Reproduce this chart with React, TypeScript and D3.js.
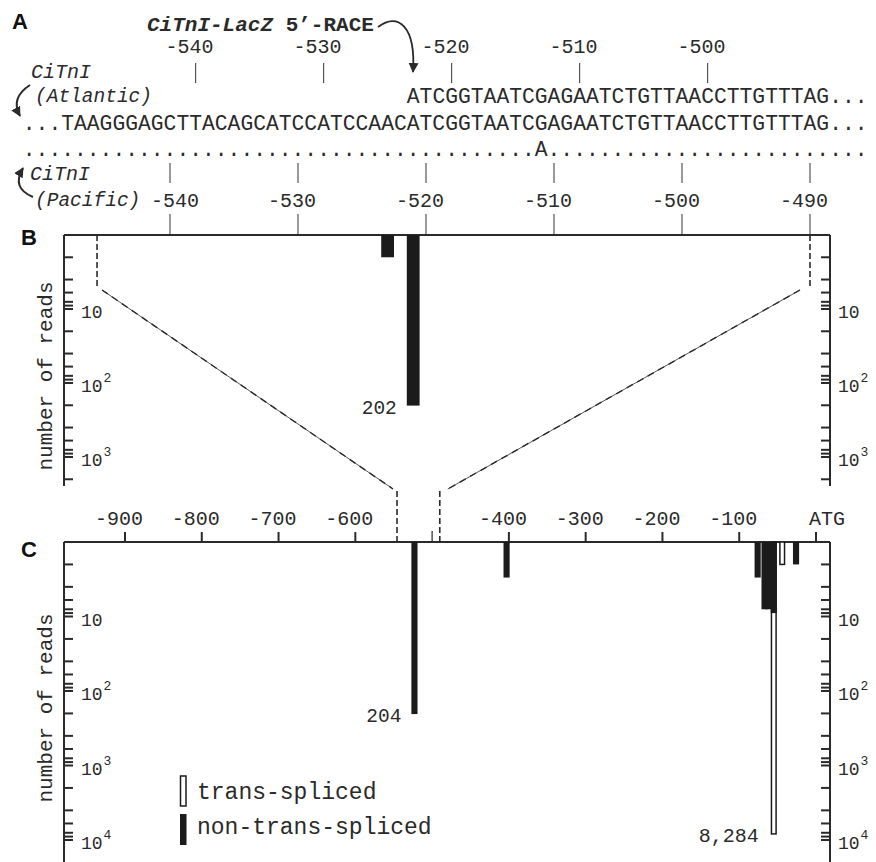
import * as React from "react";
import * as d3 from "d3";

// sequence rows (panel A)
const raceRead = "ATCGGTAATCGAGAATCTGTTAACCTTGTTTAG...";
const atlanticSeq = "...TAAGGGAGCTTACAGCATCCATCCAACATCGGTAATCGAGAATCTGTTAACCTTGTTTAG...";
const pacificSeq = "........................................A.........................";
const seqStart = -551; // pacific coordinate of first char
const raceStart = -521;
const atlanticTicks = [-540, -530, -520, -510, -500];
const pacificTicks = [-540, -530, -520, -510, -500, -490];
const atlanticShift = 2;

// panel B reads (pacific coords)
const bPositions = [-523, -521];
const bReads = [2, 202];

// panel C reads
const nonTransPositions = [-523, -403, -76, -67, -62, -55, -26];
const nonTransReads = [204, 3, 3, 8, 8, 9, 2];
const transPositions = [-55, -44];
const transReads = [8284, 2];
const cTicks = [-900, -800, -700, -600, -500, -400, -300, -200, -100, 0];
const cTickLabels = ["-900", "-800", "-700", "-600", "", "-400", "-300", "-200", "-100", "ATG"];
const zoomWindow = [-545.7, -490];

const minorMult = [2, 4, 6, 8, 9];
const decades = [10, 100, 1000, 10000];
const decadeExp = ["", "2", "3", "4"];

const mono = "'Liberation Mono', 'DejaVu Sans Mono', monospace";
const ink = "#2a2a2a";

const xP = d3.scaleLinear().domain([-540, -490]).range([170, 810]);
const xA = (a: number) => xP(a + atlanticShift);
const xC = d3.scaleLinear().domain([-900, 0]).range([125, 816]);
const yB = d3.scaleLog().domain([1, 1000]).range([235, 457]);
const yC = d3.scaleLog().domain([1, 10000]).range([542, 840]);
const fmt = d3.format(",");

const axL = 64;
const axR = 830;

function LogAxis({ y, bottom }: { y: d3.ScaleLogarithmic<number, number>; bottom: number }) {
  const ticks: number[] = [];
  [1, 10, 100, 1000, 10000].forEach((d) => {
    minorMult.forEach((m) => ticks.push(m * d));
  });
  decades.forEach((d) => ticks.push(d));
  const top = y.range()[0];
  const visible = ticks.filter((t) => y(t) <= bottom - 2);
  return (
    <g stroke={ink} strokeWidth={2}>
      <line x1={axL} x2={axL} y1={top} y2={bottom} />
      <line x1={axR} x2={axR} y1={top} y2={bottom} />
      {visible.map((t, i) => (
        <g key={i}>
          <line x1={axL} x2={axL + 9} y1={y(t)} y2={y(t)} />
          <line x1={axR - 9} x2={axR} y1={y(t)} y2={y(t)} />
        </g>
      ))}
      {decades
        .filter((d) => y(d) <= bottom)
        .map((d, i) => (
          <g key={"l" + i} stroke="none" fill={ink} fontFamily={mono} fontSize={18}>
            {[axL + 17, axR + 8].map((lx, j) => (
              <text key={j} x={lx} y={y(d) + 9}>
                10
                {decadeExp[i] && (
                  <tspan fontSize={13} dy={-10} dx={1}>
                    {decadeExp[i]}
                  </tspan>
                )}
              </text>
            ))}
          </g>
        ))}
    </g>
  );
}

export default function App() {
  const charLeft = (p: number) => xP(p) - 6.4;

  return (
    <svg width={876} height={862} style={{ position: "absolute", left: 0, top: 0, background: "#fff" }}>
      <defs>
        <marker id="ah" viewBox="0 0 10 10" refX="9" refY="5" markerWidth="10" markerHeight="12" markerUnits="userSpaceOnUse" orient="auto">
          <path d="M0,0 L10,5 L0,10 z" fill={ink} />
        </marker>
      </defs>
      {/* panel labels */}
      <g fontFamily="'Liberation Sans', Arial, sans-serif" fontWeight="bold" fontSize={22} fill="#111">
        <text x={12} y={29}>A</text>
        <text x={21} y={245}>B</text>
        <text x={21} y={557}>C</text>
      </g>

      {/* ---- panel A ---- */}
      <text x={147} y={31} fontFamily={mono} fontSize={21} fontWeight="bold" fill={ink}>
        <tspan fontStyle="italic">CiTnI-LacZ</tspan> 5’-RACE
      </text>
      <path d="M378,27 C398,12 416,26 413,72" fill="none" stroke={ink} strokeWidth={1.8} markerEnd="url(#ah)" />

      <g fontFamily={mono} fontSize={20} fill={ink} textAnchor="middle">
        {atlanticTicks.map((t) => (
          <text key={t} x={xA(t) - 6} y={53}>{t}</text>
        ))}
        {pacificTicks.map((t, i) => (
          <text key={t} x={xP(t) - 6 + (i === 0 ? 11 : 0)} y={207}>{t}</text>
        ))}
      </g>
      <g stroke="#555" strokeWidth={1.2}>
        {atlanticTicks.map((t) => (
          <line key={t} x1={xA(t)} x2={xA(t)} y1={63} y2={83} />
        ))}
        {pacificTicks.map((t) => (
          <g key={t}>
            <line x1={xP(t)} x2={xP(t)} y1={163} y2={183} />
            <line x1={xP(t)} x2={xP(t)} y1={214} y2={235} />
          </g>
        ))}
      </g>

      <g fontFamily={mono} fontSize={21.33} fill={ink}>
        <text x={charLeft(raceStart)} y={103}>{raceRead}</text>
        <text x={charLeft(seqStart)} y={130}>{atlanticSeq}</text>
        <text x={charLeft(seqStart)} y={156}>{pacificSeq}</text>
      </g>
      <g fontFamily={mono} fontStyle="italic" fill={ink}>
        <text x={31} y={78} fontSize={20}>CiTnI</text>
        <text x={35} y={102} fontSize={19.5}>(Atlantic)</text>
        <text x={30} y={180} fontSize={20}>CiTnI</text>
        <text x={35} y={206} fontSize={19.5}>(Pacific)</text>
      </g>
      <path d="M30,85 Q10,98 20,116" fill="none" stroke={ink} strokeWidth={2} markerEnd="url(#ah)" />
      <path d="M33,197 Q11,188 23,168" fill="none" stroke={ink} strokeWidth={2} markerEnd="url(#ah)" />

      {/* ---- panel B ---- */}
      <line x1={axL} x2={axR} y1={235} y2={235} stroke={ink} strokeWidth={2} />
      <LogAxis y={yB} bottom={486} />
      {bPositions.map((p, i) => (
        <rect key={p} x={xP(p - 0.5)} y={235} width={xP(p + 0.5) - xP(p - 0.5)} height={yB(bReads[i]) - 235} fill="#1b1b1b" />
      ))}
      {bPositions.map((p, i) =>
        bReads[i] > 100 ? (
          <text key={"t" + p} x={xP(p - 0.5) - 10} y={yB(bReads[i]) + 8} textAnchor="end" fontFamily={mono} fontSize={19.5} fill={ink}>
            {fmt(bReads[i])}
          </text>
        ) : null
      )}
      <text transform="translate(51.5,376) rotate(-90)" textAnchor="middle" fontFamily={mono} fontSize={21} fill={ink}>
        number of reads
      </text>

      {/* zoom connectors */}
      <g stroke={ink} fill="none">
        {zoomWindow.map((w) => (
          <g key={w} strokeWidth={1.6} strokeDasharray="6 3">
            <line x1={xP(w)} x2={xP(w)} y1={235} y2={287} />
            <line x1={xC(w)} x2={xC(w)} y1={491} y2={542} />
          </g>
        ))}
        <g strokeWidth={0.8}>
          <line x1={xP(zoomWindow[0]) + 5} y1={290} x2={xC(zoomWindow[0]) - 4} y2={489} />
          <line x1={xP(zoomWindow[1]) - 10} y1={290} x2={xC(zoomWindow[1]) + 8} y2={489} />
        </g>
        <g strokeWidth={1.4} strokeDasharray="7 5">
          <line x1={xP(zoomWindow[0]) + 5} y1={290} x2={xC(zoomWindow[0]) - 4} y2={489} />
          <line x1={xP(zoomWindow[1]) - 10} y1={290} x2={xC(zoomWindow[1]) + 8} y2={489} />
        </g>
      </g>

      {/* ---- panel C ---- */}
      <line x1={axL} x2={axR} y1={542} y2={542} stroke={ink} strokeWidth={2} />
      {cTicks.map((t, i) => (
        <line key={t} x1={xC(t)} x2={xC(t)} y1={cTickLabels[i] ? 532 : 531} y2={542} stroke={ink} strokeWidth={cTickLabels[i] ? 2 : 1.2} />
      ))}
      <g fontFamily={mono} fontSize={20} fill={ink} textAnchor="middle">
        {cTicks.map((t, i) => (
          <text key={t} x={xC(t) + (cTickLabels[i].startsWith("-") ? -6 : 11)} y={525}>
            {cTickLabels[i]}
          </text>
        ))}
      </g>
      <LogAxis y={yC} bottom={862} />
      {transPositions.map((p, i) => (
        <rect key={"tr" + p} x={xC(p - 4) + 0.75} y={542} width={xC(p + 4) - xC(p - 4) - 1.5} height={yC(transReads[i]) - 542} fill="#fff" stroke="#1b1b1b" strokeWidth={1.5} />
      ))}
      {nonTransPositions.map((p, i) => (
        <rect key={"nt" + p} x={xC(p - 4)} y={542} width={xC(p + 4) - xC(p - 4)} height={yC(nonTransReads[i]) - 542} fill="#1b1b1b" />
      ))}
      {transPositions.map((p, i) =>
        transReads[i] > 100 ? (
          <text key={"lt" + p} x={xC(p - 4) - 12} y={yC(transReads[i]) + 8} textAnchor="end" fontFamily={mono} fontSize={20} fill={ink}>
            {fmt(transReads[i])}
          </text>
        ) : null
      )}
      {nonTransPositions.map((p, i) =>
        nonTransReads[i] > 100 ? (
          <text key={"ln" + p} x={xC(p - 4) - 10} y={yC(nonTransReads[i]) + 8} textAnchor="end" fontFamily={mono} fontSize={19.5} fill={ink}>
            {fmt(nonTransReads[i])}
          </text>
        ) : null
      )}
      <text transform="translate(51.5,708) rotate(-90)" textAnchor="middle" fontFamily={mono} fontSize={21} fill={ink}>
        number of reads
      </text>

      {/* legend */}
      <rect x={180.5} y={776} width={5.5} height={30} fill="#fff" stroke="#1b1b1b" strokeWidth={1.5} />
      <rect x={180} y={814} width={6.5} height={31} fill="#1b1b1b" />
      <g fontFamily={mono} fontSize={23} fill={ink}>
        <text x={197} y={799}>trans-spliced</text>
        <text x={197} y={834}>non-trans-spliced</text>
      </g>
    </svg>
  );
}
